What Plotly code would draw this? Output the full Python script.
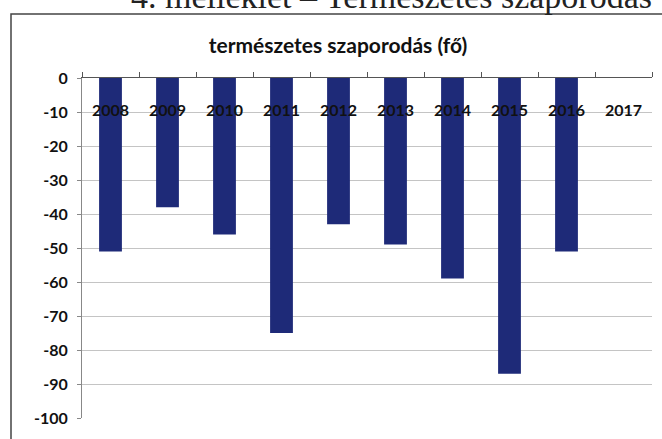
import plotly.graph_objects as go

years = ["2008", "2009", "2010", "2011", "2012", "2013", "2014", "2015", "2016", "2017"]
values = [-51, -38, -46, -75, -43, -49, -59, -87, -51, None]
y_ticks = [0, -10, -20, -30, -40, -50, -60, -70, -80, -90, -100]
label_level = -10
title_text = "természetes szaporodás (fő)"
header_text = "4. melléklet – Természetes szaporodás"

W, H = 662, 439
L, R, T, B = 82, 10, 78, 21
pw, ph = W - L - R, H - T - B

def px_x(p):
    return (p - L) / pw

def px_y(p):
    return (H - B - p) / ph

fig = go.Figure()
fig.add_trace(go.Bar(
    x=years, y=values, width=0.4,
    marker=dict(color="#1E2A78", line=dict(width=0)),
    hoverinfo="x+y",
))
fig.add_trace(go.Scatter(
    x=years, y=[label_level] * len(years), mode="text", text=years,
    textposition="middle center",
    textfont=dict(family="Lato", size=16, color="#111111", weight="bold"),
    hoverinfo="skip",
))

fig.update_layout(
    width=W, height=H,
    margin=dict(l=L, r=R, t=T, b=B),
    paper_bgcolor="white", plot_bgcolor="white",
    showlegend=False,
    title=dict(text=title_text, x=338 / W, xanchor="center",
               y=1 - 46 / H, yanchor="middle",
               font=dict(family="Lato", size=21, color="#111111", weight="bold")),
    xaxis=dict(
        type="category", side="top", showticklabels=False,
        showline=True, linecolor="#555555", linewidth=1,
        ticks="outside", tickson="boundaries", ticklen=5, tickcolor="#555555",
        showgrid=False, zeroline=False, range=[-0.5, 9.5],
    ),
    yaxis=dict(
        range=[-100, 0], tickvals=y_ticks, ticktext=[str(v) for v in y_ticks],
        showline=True, linecolor="#888888", linewidth=1,
        ticks="outside", ticklen=4, tickcolor="#888888",
        ticklabelstandoff=6,
        gridcolor="#c4c4c4", gridwidth=1, zeroline=False,
        tickfont=dict(family="Lato", size=16, color="#111111", weight="bold"),
    ),
    shapes=[dict(type="rect", xref="paper", yref="paper",
                 x0=px_x(11), x1=1.2, y0=-0.2, y1=px_y(14),
                 line=dict(color="#444444", width=1.5), fillcolor="rgba(0,0,0,0)",
                 layer="below")],
    annotations=[dict(text=header_text, xref="paper", yref="paper",
                      x=px_x(654), xanchor="right", y=px_y(17), yanchor="bottom",
                      showarrow=False,
                      font=dict(family="Liberation Serif", size=34, color="#222222"))],
)

fig.write_html("out.html", config={"displayModeBar": False},
               post_script="document.body.style.margin='0';")
